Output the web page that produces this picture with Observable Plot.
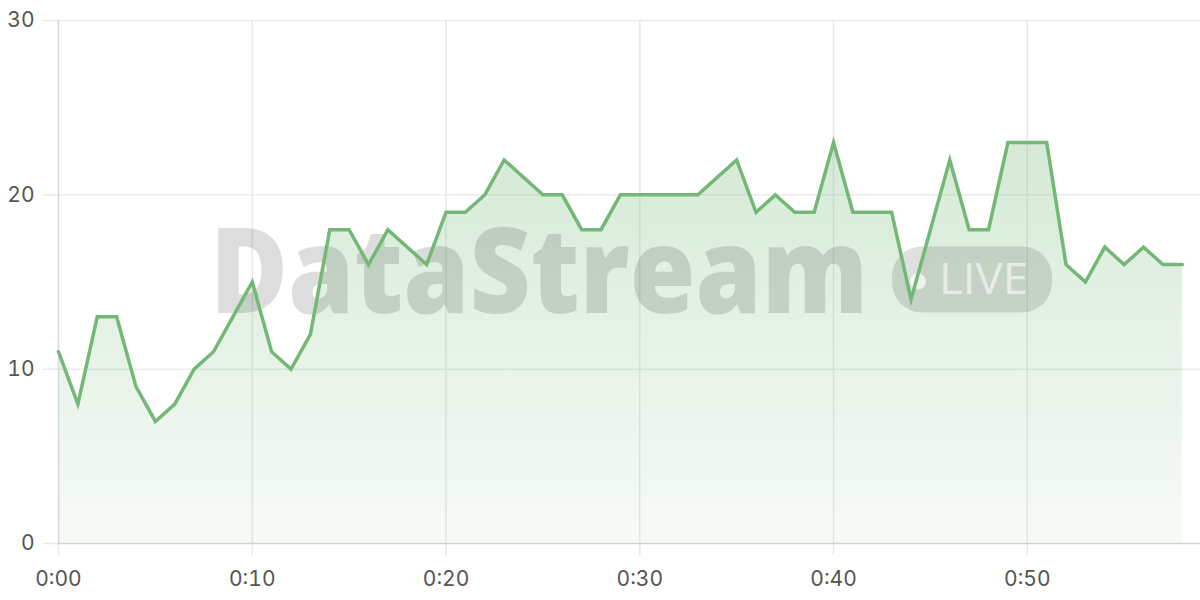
<!DOCTYPE html>
<html>
<head>
<meta charset="utf-8">
<script src="https://cdn.jsdelivr.net/npm/d3@7"></script>
<script src="https://cdn.jsdelivr.net/npm/@observablehq/plot@0.6"></script>
<style>
  html, body { margin: 0; padding: 0; background: #fff; }
  #chart svg { display: block; }
</style>
</head>
<body>
<div id="chart"></div>
<script>
// ---- Data ----
const minutes = [0,1,2,3,4,5,6,7,8,9,10,11,12,13,14,15,16,17,18,19,20,21,22,23,24,25,26,27,28,29,30,31,32,33,34,35,36,37,38,39,40,41,42,43,44,45,46,47,48,49,50,51,52,53,54,55,56,57,58];
const values  = [11,8,13,13,9,7,8,10,11,13,15,11,10,12,18,18,16,18,17,16,19,19,20,22,21,20,20,18,18,20,20,20,20,20,21,22,19,20,19,19,23,19,19,19,14,18,22,18,18,23,23,23,16,15,17,16,17,16,16];
const xTicks = [0,10,20,30,40,50];
const yTicks = [0,10,20,30];
const watermarkText = "DataStream";
const badgeText = "LIVE";

const data = minutes.map((m, i) => ({minute: m, value: values[i]}));

const NS = "http://www.w3.org/2000/svg";
function el(tag, attrs = {}, text) {
  const e = document.createElementNS(NS, tag);
  for (const [k, v] of Object.entries(attrs)) e.setAttribute(k, v);
  if (text != null) e.textContent = text;
  return e;
}

// gradient definition for the area
function defsMark() {
  const defs = el("defs");
  const grad = el("linearGradient", {id: "areaGrad", x1: 0, y1: 0, x2: 0, y2: 1});
  grad.appendChild(el("stop", {offset: "0%", "stop-color": "#74b877", "stop-opacity": 0.3}));
  grad.appendChild(el("stop", {offset: "100%", "stop-color": "#74b877", "stop-opacity": 0.06}));
  defs.appendChild(grad);
  return defs;
}

// decorative watermark, positioned relative to the plot frame centre
function watermark(index, scales, vals, dims) {
  const cx = (dims.marginLeft + dims.width - dims.marginRight) / 2;
  const cy = (dims.marginTop + dims.height - dims.marginBottom) / 2;
  const g = el("g", {"pointer-events": "none", "text-anchor": "start"});
  g.appendChild(el("text", {
    x: cx - 419, y: cy + 31, "text-anchor": "start",
    "font-family": "'Open Sans', 'Noto Sans', sans-serif",
    "font-weight": 800, "font-size": 119,
    fill: "#000", "fill-opacity": 0.135,
    textLength: 658, lengthAdjust: "spacingAndGlyphs"
  }, watermarkText));
  g.appendChild(el("rect", {
    x: cx + 263, y: cy - 35, width: 160, height: 66, rx: 30, ry: 30,
    fill: "#000", "fill-opacity": 0.12
  }));
  g.appendChild(el("circle", {
    cx: cx + 289, cy: cy, r: 8, fill: "#fff", "fill-opacity": 0.7
  }));
  g.appendChild(el("text", {
    x: cx + 310, y: cy + 12, "text-anchor": "start",
    "font-family": "'Open Sans', 'Noto Sans', sans-serif",
    "font-weight": 400, "font-size": 44,
    fill: "#fff", "fill-opacity": 0.6,
    textLength: 89, lengthAdjust: "spacingAndGlyphs"
  }, badgeText));
  return g;
}

const fmtMin = m => `0:${String(m).padStart(2, "0")}`;

const chart = Plot.plot({
  width: 1200,
  height: 600,
  marginLeft: 58,
  marginRight: 0,
  marginTop: 20,
  marginBottom: 57,
  style: {fontFamily: "Inter, 'Open Sans', sans-serif", fontSize: "21px", color: "#555", background: "#fff"},
  x: {domain: [0, 58.94], axis: null, label: null},
  y: {domain: [0, 30], axis: null, label: null},
  marks: [
    defsMark,
    Plot.ruleY(yTicks.slice(1), {stroke: "#ebebeb", strokeWidth: 1.5}),
    Plot.ruleX(xTicks.slice(1), {stroke: "#e8e8e8", strokeWidth: 1.5}),
    Plot.areaY(data, {x: "minute", y: "value", fill: "url(#areaGrad)"}),
    watermark,
    Plot.axisY(yTicks, {
      label: null, tickSize: 15, tickPadding: 9, stroke: "#e8e8e8", strokeWidth: 1.5,
      fill: "#555", fontSize: 21, tickFormat: d => String(d)
    }),
    Plot.axisX(xTicks, {
      label: null, tickSize: 12, tickPadding: 16, stroke: "#e8e8e8", strokeWidth: 1.5,
      fill: "#555", fontSize: 21, tickFormat: fmtMin
    }),
    Plot.ruleX([0], {stroke: "#d8d8d8", strokeWidth: 1.5}),
    Plot.ruleY([0], {stroke: "#cfd4cf", strokeWidth: 1.5}),
    Plot.lineY(data, {x: "minute", y: "value", stroke: "#74b877", strokeWidth: 3.5, strokeLinejoin: "miter", strokeMiterlimit: 10})
  ]
});

document.getElementById("chart").appendChild(chart);
</script>
</body>
</html>
